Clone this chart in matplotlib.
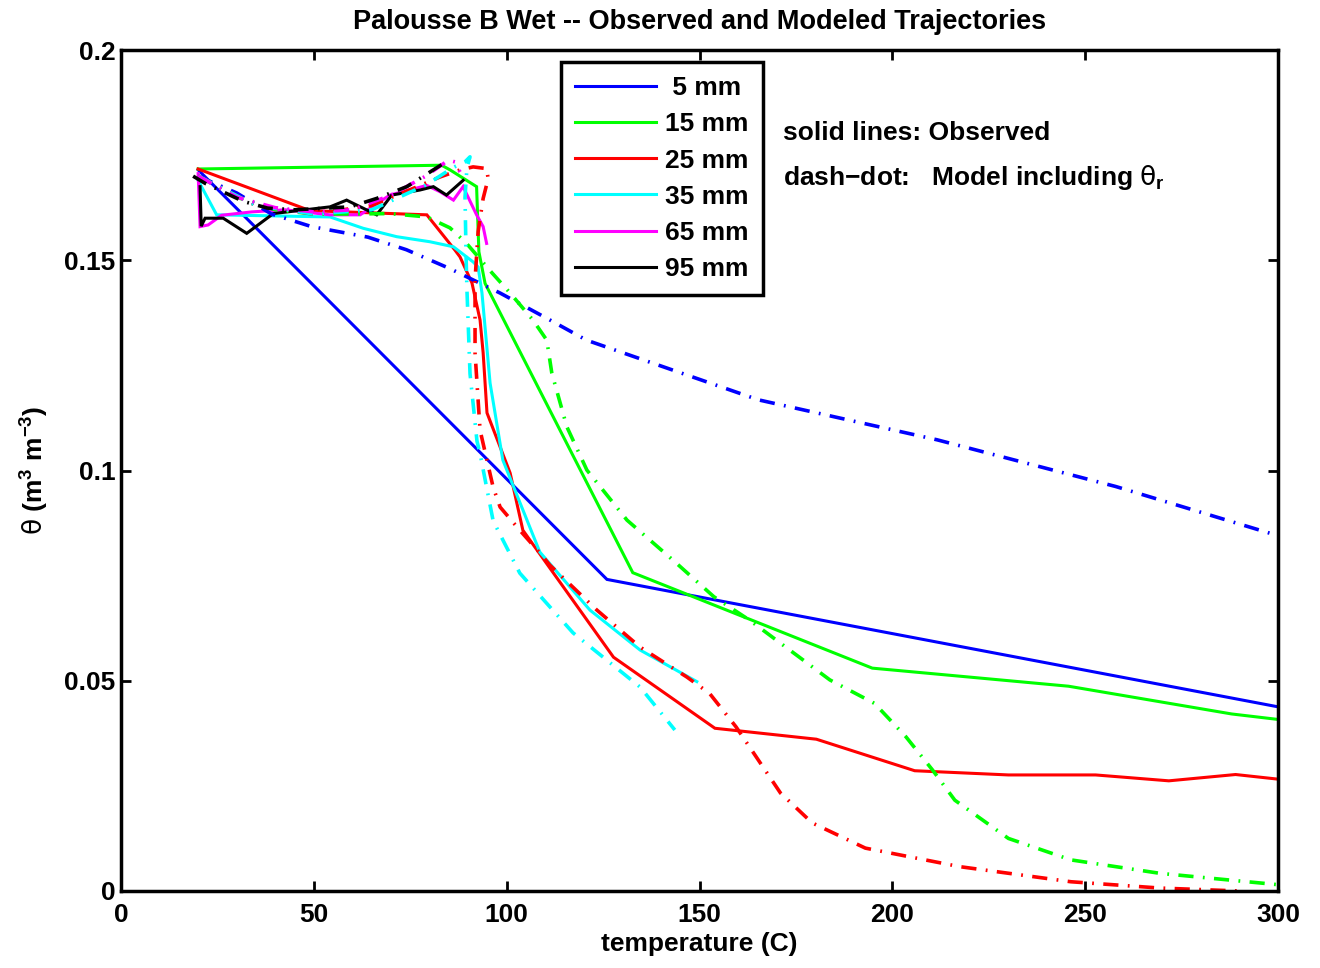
import matplotlib
matplotlib.use("Agg")
import matplotlib.pyplot as plt

plt.rcParams['font.family'] = ['Liberation Sans', 'DejaVu Sans']
plt.rcParams['font.weight'] = 'bold'
plt.rcParams['mathtext.fontset'] = 'custom'
plt.rcParams['mathtext.rm'] = 'Liberation Sans:bold'
plt.rcParams['mathtext.bf'] = 'Liberation Sans:bold'
plt.rcParams['mathtext.it'] = 'DejaVu Sans:weight=normal'

# ---------------- data ----------------
labels = [' 5 mm', '15 mm', '25 mm', '35 mm', '65 mm', '95 mm']
colors = ['#0000ff', '#00ff00', '#ff0000', '#00ffff', '#ff00ff', '#000000']

# observed (solid)
obs_5_T = [20, 126, 300]
obs_5 = [0.1715, 0.0741, 0.0438]
obs_15_T = [20, 83.1, 85.3, 92.2, 92.8, 94.4, 132.7, 194.8, 245.7, 288, 300]
obs_15 = [0.1717, 0.1726, 0.1715, 0.1675, 0.152, 0.1445, 0.0757, 0.053, 0.0487, 0.0421, 0.0408]
obs_25_T = [20, 49, 79.3, 86.6, 87.9, 91, 93.1, 93.9, 94.9, 100.9, 104.2, 127.7, 154,
            180.3, 205.8, 230.1, 252.7, 271.7, 289, 300]
obs_25 = [0.1717, 0.1618, 0.1608, 0.1524, 0.1508, 0.1446, 0.1358, 0.128, 0.1137, 0.0994,
          0.0858, 0.0556, 0.0387, 0.0361, 0.0286, 0.0276, 0.0276, 0.0262, 0.0277, 0.0266]
obs_35_T = [20, 24.8, 54.2, 62.8, 71.5, 80.1, 86.2, 91.3, 92.6, 93.6, 95.7, 99, 108.6,
            121.6, 134.6, 149.3]
obs_35 = [0.169, 0.1608, 0.1603, 0.1576, 0.1556, 0.1544, 0.1532, 0.1496, 0.1484, 0.1422,
          0.1208, 0.1025, 0.0806, 0.0668, 0.0573, 0.0498]
obs_65_T = [20, 20.5, 22.6, 26.1, 33.9, 42.5, 54.2, 62, 69.7, 79.3, 82.7, 86.2, 88.7,
            92.2, 93.9, 94.8]
obs_65 = [0.1706, 0.158, 0.1584, 0.1607, 0.1615, 0.162, 0.1608, 0.1608, 0.1655, 0.1678,
          0.1663, 0.1643, 0.1675, 0.1608, 0.158, 0.154]
obs_95_T = [20.5, 20.8, 21.8, 26.5, 32.6, 39.5, 54.2, 58.5, 66.3, 70.2, 77.5, 81, 84.4, 88.7]
obs_95 = [0.1675, 0.1581, 0.16, 0.16, 0.1564, 0.1611, 0.1627, 0.1643, 0.1608, 0.1655,
          0.1667, 0.1675, 0.1655, 0.169]

# model including theta_r (dash-dot)
mod_5_T = [20, 30, 39, 49.4, 64, 74, 85.3, 98.3, 111.2, 120.7, 165.3, 211.6, 257.9, 300]
mod_5 = [0.170, 0.166, 0.161, 0.158, 0.1555, 0.1525, 0.148, 0.1422, 0.1358, 0.131,
         0.1168, 0.1073, 0.0962, 0.0845]
mod_15_T = [20, 30, 40, 50, 60, 69.7, 79.3, 85.3, 89.6, 96.2, 100.9, 106.8, 110.4, 111.7,
            115.6, 120.8, 131.2, 143.1, 153.7, 163, 183.8, 195.4, 203.5, 210.4, 216.2,
            230.1, 246.3, 269.4, 300]
mod_15 = [0.170, 0.165, 0.162, 0.161, 0.161, 0.1611, 0.1603, 0.1577, 0.154, 0.147, 0.1422,
          0.1358, 0.131, 0.1232, 0.1104, 0.1001, 0.0882, 0.0787, 0.070, 0.0644, 0.0502,
          0.0446, 0.0367, 0.0288, 0.0216, 0.0125, 0.0074, 0.0042, 0.0015]
mod_25_T = [20, 35, 50, 65, 75.8, 82.7, 88, 91.3, 94.8, 95.2, 93.9, 92.6, 91.8, 91.8, 93.1,
            96.5, 98.3, 103.4, 108.6, 111.2, 123.4, 134.6, 146.7, 152.6, 159.5, 171, 179.2,
            193, 217.4, 246.3, 269.4, 290]
mod_25 = [0.170, 0.163, 0.161, 0.163, 0.1671, 0.1698, 0.1715, 0.1722, 0.1718, 0.1694, 0.1647,
          0.1568, 0.1453, 0.128, 0.1096, 0.096, 0.0913, 0.0858, 0.0804, 0.0775, 0.0668,
          0.058, 0.0509, 0.047, 0.039, 0.0233, 0.0162, 0.0102, 0.0058, 0.0022, 0.0007, 0.0]
mod_35_T = [20, 35, 50, 65, 79.3, 86, 89.2, 90.5, 89.7, 89.2, 89.3, 89.5, 89.7, 90.5, 92.3,
            93.1, 96.5, 103.4, 117.2, 134.6, 143.6]
mod_35 = [0.170, 0.163, 0.161, 0.162, 0.168, 0.172, 0.1734, 0.1746, 0.172, 0.165, 0.160,
          0.150, 0.143, 0.123, 0.107, 0.104, 0.088, 0.0756, 0.0614, 0.0485, 0.0383]
mod_65_T = [20, 30, 40, 50, 60, 70, 79, 84.9, 86.6, 87.9]
mod_65 = [0.170, 0.165, 0.1625, 0.1615, 0.162, 0.1655, 0.170, 0.1738, 0.1734, 0.171]
mod_95_T = [18.7, 21.8, 31.7, 38, 45, 59.4, 66.3, 74.1, 83.6]
mod_95 = [0.170, 0.1683, 0.164, 0.1624, 0.162, 0.1627, 0.1647, 0.1675, 0.173]

obs_T = [obs_5_T, obs_15_T, obs_25_T, obs_35_T, obs_65_T, obs_95_T]
obs_V = [obs_5, obs_15, obs_25, obs_35, obs_65, obs_95]
mod_T = [mod_5_T, mod_15_T, mod_25_T, mod_35_T, mod_65_T, mod_95_T]
mod_V = [mod_5, mod_15, mod_25, mod_35, mod_65, mod_95]

xticks = [0, 50, 100, 150, 200, 250, 300]
yticks = [0, 0.05, 0.1, 0.15, 0.2]
ytick_labels = ['0', '0.05', '0.1', '0.15', '0.2']

FS = 19

# ---------------- figure ----------------
fig = plt.figure(figsize=(13.2, 9.68), dpi=100)
ax = fig.add_axes([121 / 1320, 77 / 968, 1157 / 1320, 841 / 968])

handles = []
for T, V, c, lab in zip(obs_T, obs_V, colors, labels):
    h, = ax.plot(T, V, color=c, lw=2.2, solid_joinstyle='miter', label=lab)
    handles.append(h)
for T, V, c in zip(mod_T, mod_V, colors):
    ax.plot(T, V, color=c, lw=2.6, linestyle=(0, (4.2, 2.6, 0.5, 2.6)))

ax.set_xlim(0, 300)
ax.set_ylim(0, 0.2)
ax.set_xticks(xticks)
ax.set_xticklabels([str(t) for t in xticks])
ax.set_yticks(yticks)
ax.set_yticklabels(ytick_labels)
ax.tick_params(direction='in', length=7, width=2, top=True, right=True,
               labelsize=FS)
ax.tick_params(axis='x', pad=9)
ax.tick_params(axis='y', pad=4)
for lab in ax.get_xticklabels() + ax.get_yticklabels():
    lab.set_fontweight('bold')
for s in ax.spines.values():
    s.set_linewidth(2.5)

ax.set_title('Palousse B Wet -- Observed and Modeled Trajectories',
             fontsize=19.5, fontweight='bold', pad=15)
ax.set_xlabel('temperature (C)', fontsize=FS, fontweight='bold', labelpad=3)
ax.set_ylabel(r'$\theta$ (m$^{3}$ m$^{-3}$)', fontsize=FS, fontweight='bold', labelpad=10)

leg = ax.legend(handles=handles, loc='upper left', bbox_to_anchor=(0.380, 0.986),
                borderaxespad=0, fancybox=False, framealpha=1, edgecolor='black',
                prop={'size': FS, 'weight': 'bold'}, handlelength=3.05,
                labelspacing=0.46, borderpad=0.55, handletextpad=0.34)
leg.get_frame().set_linewidth(2.5)

ax.text(171.6, 0.1803, 'solid lines: Observed', fontsize=FS, fontweight='bold',
        va='center', ha='left')
ax.text(171.6, 0.1696, 'dash\u2212dot:   Model including $\\theta_\\mathregular{r}$',
        fontsize=FS, fontweight='bold', va='center', ha='left')

fig.savefig('out.png', dpi=100)
